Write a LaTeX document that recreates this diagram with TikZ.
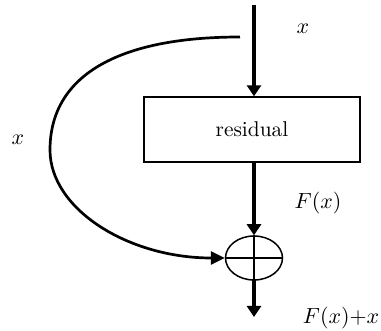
\documentclass[tikz,border=0pt]{standalone}
\usetikzlibrary{arrows.meta,shapes.geometric}
\begin{document}
\begin{tikzpicture}[x=0.5pt,y=-0.5pt,
  flow/.style={line width=1.6pt,-{Triangle[length=5.5pt,width=7pt]}},
  skip/.style={line width=1.35pt,-{Triangle[length=7pt,width=6.5pt]}},
  lbl/.style={font=\fontsize{10.7}{13}\selectfont,inner sep=0pt},
  resbox/.style={draw,line width=0.7pt,minimum width=108pt,minimum height=32.5pt,inner sep=0pt,font=\fontsize{10.7}{13}\selectfont},
  sumnode/.style={draw,ellipse,line width=0.75pt,minimum width=28.5pt,minimum height=22pt,inner sep=0pt}]
\useasboundingbox (0,0) rectangle (381,331);
\node[resbox] (res) at (252,129.5) {residual};
\node[sumnode] (sum) at (254,258) {};
\draw[line width=0.7pt] (sum.north) -- (sum.south) (sum.west) -- (sum.east);
\coordinate (top) at (254,5);
\coordinate (split) at (240,37);
\coordinate (left) at (50,150);
\coordinate (out) at (254,317);
\coordinate (outstart) at (254,279);
\draw[flow] (top) -- (res.north -| top);
\draw[flow] (res.south -| top) -- (sum.north);
\draw[flow] (outstart) -- (out);
\draw[skip] (split) .. controls (116.5,37) and (50,76.5) .. (left)
  .. controls (50,209) and (128,258) .. (sum.west);
\node[lbl] (lx1) at (303,29) {$x$};
\node[lbl] (lx2) at (18,140) {$x$};
\node[lbl] (lf) at (318,203) {$F(x)$};
\node[lbl] (lfx) at (341,318) {$F(x){+}x$};
\end{tikzpicture}
\end{document}
